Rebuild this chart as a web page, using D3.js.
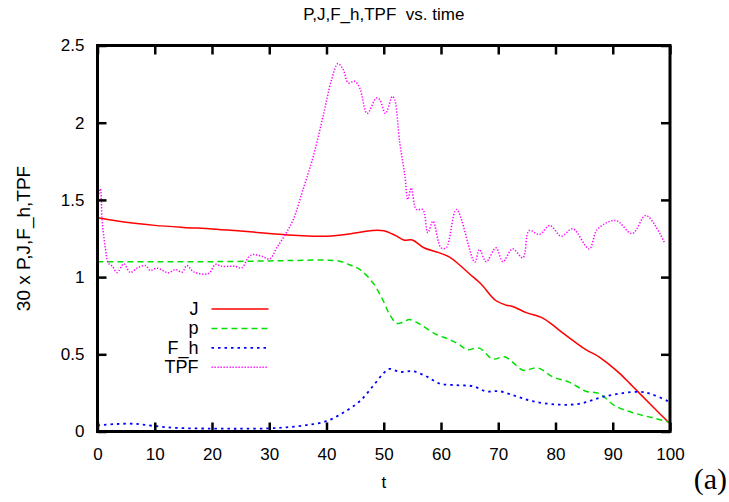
<!DOCTYPE html>
<html>
<head>
<meta charset="utf-8">
<script src="https://cdn.jsdelivr.net/npm/d3@7"></script>
<style>
  body { margin: 0; background: #fff; }
  svg { display: block; }
  text { font-family: "Liberation Sans", Arial, sans-serif; }
</style>
</head>
<body>
<svg id="grafico" width="729" height="502"></svg>
<script>
// tick labels
var xTicks = [0, 10, 20, 30, 40, 50, 60, 70, 80, 90, 100];
var yTicks = [0, 0.5, 1, 1.5, 2, 2.5];
var yTickLabels = ["0", "0.5", "1", "1.5", "2", "2.5"];

// series names for the key
var series = ["J", "p", "F_h", "TPF"];

// J
var jT = [0, 5, 10, 15, 20, 25, 30, 35, 40, 45, 48, 50, 52, 53.5, 55, 57, 59.5, 61.5, 63.2, 65, 67, 69.5, 71.4, 72.5, 74.9, 77.7, 79.5, 81.2, 83.6, 85.3, 87.6, 89.5, 91.1, 93, 94.6, 97, 100];
var jV = [1.385, 1.355, 1.335, 1.322, 1.312, 1.298, 1.283, 1.27, 1.265, 1.285, 1.302, 1.30, 1.27, 1.24, 1.24, 1.19, 1.16, 1.13, 1.08, 1.02, 0.955, 0.85, 0.818, 0.81, 0.77, 0.736, 0.69, 0.64, 0.574, 0.53, 0.484, 0.43, 0.38, 0.31, 0.25, 0.16, 0.05];

// p
var pT = [0, 10, 20, 30, 35, 40, 42.3, 44, 45.8, 48.1, 49.8, 51, 52.3, 53.5, 54.5, 56.3, 59.2, 61.5, 63.5, 64.5, 66.7, 69, 71.1, 72.5, 74.3, 76.9, 79.5, 82.4, 85.3, 87.6, 90.5, 94, 97.5, 100];
var pV = [1.10, 1.10, 1.10, 1.105, 1.108, 1.11, 1.103, 1.08, 1.05, 0.963, 0.855, 0.76, 0.70, 0.71, 0.725, 0.695, 0.628, 0.596, 0.555, 0.53, 0.54, 0.47, 0.484, 0.45, 0.397, 0.412, 0.354, 0.32, 0.261, 0.246, 0.164, 0.117, 0.084, 0.06];

// F_h
var fT = [0, 3, 6.3, 9.8, 13.9, 20, 25, 29.6, 33, 36.5, 40, 42.9, 45.8, 48.1, 49.9, 51, 52.8, 55.1, 57.4, 59.8, 62.7, 65.6, 67.9, 70.2, 73, 76, 80.1, 84.1, 88.8, 94.6, 96.9, 100];
var fV = [0.039, 0.048, 0.05, 0.036, 0.023, 0.019, 0.018, 0.02, 0.027, 0.041, 0.067, 0.121, 0.196, 0.293, 0.375, 0.405, 0.386, 0.39, 0.358, 0.31, 0.30, 0.293, 0.26, 0.261, 0.23, 0.196, 0.175, 0.179, 0.229, 0.257, 0.24, 0.19];

// TPF
var tpfT = [0, 0.5, 0.8, 1.4, 1.9, 2.6, 3.4, 4.6, 5.7, 7, 8.4, 9.2, 10.4, 12.4, 13.6, 14.8, 15.6, 16.8, 19.4, 20.6, 21.7, 24, 25.2, 26.4, 27.2, 28.7, 30.1, 31.3, 32.8, 34.2, 35.9, 37.7, 39.4, 40.9, 42, 42.9, 43.8, 44.9, 45.8, 47.1, 48.7, 49.3, 50.3, 51.5, 51.9, 52.8, 53.7, 54.2, 54.8, 55.7, 56.8, 57.7, 58.6, 60, 60.9, 62.7, 65.9, 66.7, 67.9, 69.6, 70.8, 72.5, 74.3, 75.4, 77.2, 79, 81, 83, 85.9, 87.3, 90.5, 93.4, 95.8, 99];
var tpfV = [1.50, 1.572, 1.373, 1.18, 1.09, 1.07, 1.03, 1.086, 1.03, 1.06, 1.075, 1.043, 1.058, 1.028, 1.049, 1.032, 1.075, 1.034, 1.023, 1.082, 1.07, 1.07, 1.06, 1.13, 1.146, 1.135, 1.118, 1.19, 1.276, 1.373, 1.567, 1.783, 2.042, 2.28, 2.383, 2.345, 2.258, 2.269, 2.226, 2.06, 2.16, 2.15, 2.06, 2.17, 2.15, 1.87, 1.654, 1.503, 1.578, 1.438, 1.438, 1.287, 1.362, 1.19, 1.19, 1.438, 1.097, 1.179, 1.10, 1.19, 1.10, 1.183, 1.125, 1.302, 1.276, 1.334, 1.265, 1.313, 1.183, 1.308, 1.367, 1.282, 1.399, 1.226];

var svg = d3.select("svg#grafico"),
    margin = { top: 45.5, right: 59, bottom: 70.5, left: 97.5 },
    width = +svg.attr("width") - margin.left - margin.right,
    height = +svg.attr("height") - margin.top - margin.bottom;

var g = svg.append("g")
    .attr("transform", "translate(" + margin.left + "," + margin.top + ")");

var x = d3.scaleLinear().domain([0, 100]).range([0, width]);
var y = d3.scaleLinear().domain([0, 2.5]).range([height, 0]);

function pares(ts, vs) {
    return ts.map(function (t, i) { return [t, vs[i]]; });
}

var linhaSuave = d3.line()
    .x(function (d) { return x(d[0]); })
    .y(function (d) { return y(d[1]); })
    .curve(d3.curveCatmullRom);

var linhaTPF = d3.line()
    .x(function (d) { return x(d[0]); })
    .y(function (d) { return y(d[1]); })
    .curve(d3.curveCatmullRom.alpha(0.5));

var estilos = [
    { cor: "#ff0000", dash: null, w: 1.5 },
    { cor: "#00e000", dash: "6,4", w: 1.5 },
    { cor: "#0000ff", dash: "2.5,4", w: 1.8 },
    { cor: "#ff00ff", dash: "1.3,1.7", w: 1.5 }
];

var dados = [pares(jT, jV), pares(pT, pV), pares(fT, fV), pares(tpfT, tpfV)];

g.append("defs").append("clipPath").attr("id", "area")
    .append("rect").attr("width", width).attr("height", height);

// curves
dados.forEach(function (d, i) {
    g.append("path")
        .datum(d)
        .attr("clip-path", "url(#area)")
        .attr("fill", "none")
        .attr("stroke", estilos[i].cor)
        .attr("stroke-width", estilos[i].w)
        .attr("stroke-dasharray", estilos[i].dash)
        .attr("d", i == 3 ? linhaTPF : linhaSuave);
});

// axes, ticks inward, mirrored on top/right
var eixoX = g.append("g")
    .attr("transform", "translate(0," + height + ")")
    .call(d3.axisBottom(x).tickValues(xTicks).tickSizeInner(-9).tickSizeOuter(0).tickPadding(16));
var eixoXTop = g.append("g")
    .call(d3.axisTop(x).tickValues(xTicks).tickSizeInner(-9).tickSizeOuter(0).tickFormat(""));
var eixoY = g.append("g")
    .call(d3.axisLeft(y).tickValues(yTicks).tickSizeInner(-9).tickSizeOuter(0).tickPadding(13)
        .tickFormat(function (d, i) { return yTickLabels[i]; }));
var eixoYRight = g.append("g")
    .attr("transform", "translate(" + width + ",0)")
    .call(d3.axisRight(y).tickValues(yTicks).tickSizeInner(-9).tickSizeOuter(0).tickFormat(""));

[eixoX, eixoXTop, eixoY, eixoYRight].forEach(function (e) {
    e.select(".domain").remove();
    e.selectAll("line").attr("stroke", "#000").attr("stroke-width", 2.5);
    e.selectAll("text")
        .attr("fill", "#000")
        .style("font-size", "17px")
        .style("font-family", "'Liberation Sans', Arial, sans-serif");
});

// frame
g.append("rect")
    .attr("width", width)
    .attr("height", height)
    .attr("fill", "none")
    .attr("stroke", "#000")
    .attr("stroke-width", 3);

// key
var key = g.append("g").attr("transform", "translate(0,263.5)");
series.forEach(function (s, i) {
    var row = key.append("g").attr("transform", "translate(0," + (i * 19.4) + ")");
    row.append("text")
        .attr("x", 101)
        .attr("y", 6)
        .attr("text-anchor", "end")
        .style("font-size", "18px")
        .text(s);
    row.append("line")
        .attr("x1", 114)
        .attr("x2", 171)
        .attr("y1", 0)
        .attr("y2", 0)
        .attr("stroke", estilos[i].cor)
        .attr("stroke-width", estilos[i].w)
        .attr("stroke-dasharray", estilos[i].dash);
});

// title and labels
svg.append("text")
    .attr("x", margin.left + width / 2)
    .attr("y", 20)
    .attr("text-anchor", "middle")
    .style("font-size", "17px")
    .style("white-space", "pre")
    .text("P,J,F_h,TPF  vs. time");

svg.append("text")
    .attr("x", margin.left + width / 2)
    .attr("y", 488)
    .attr("text-anchor", "middle")
    .style("font-size", "17px")
    .text("t");

svg.append("text")
    .attr("transform", "translate(30," + (margin.top + height / 2) + ")rotate(-90)")
    .attr("text-anchor", "middle")
    .style("font-size", "19px")
    .text("30 x P,J,F_h,TPF");

svg.append("text")
    .attr("x", 727)
    .attr("y", 489)
    .attr("text-anchor", "end")
    .style("font-family", "'Liberation Serif', 'DejaVu Serif', serif")
    .style("font-size", "30px")
    .text("(a)");
</script>
</body>
</html>
